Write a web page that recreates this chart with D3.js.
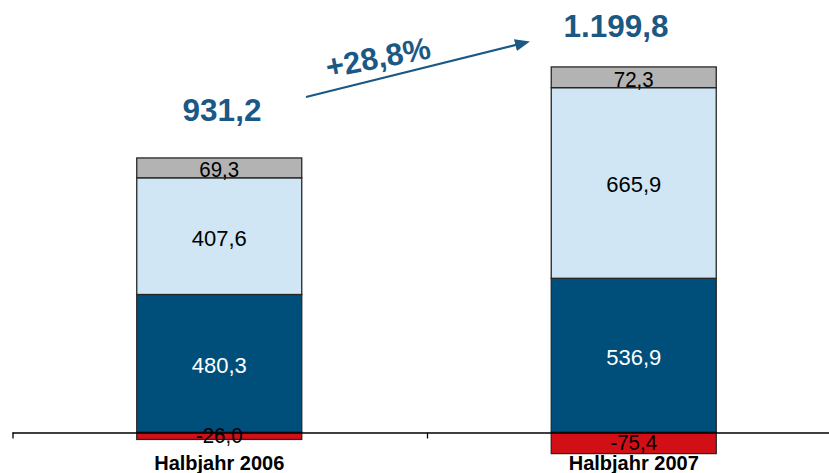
<!DOCTYPE html>
<html>
<head>
<meta charset="utf-8">
<script src="https://cdn.jsdelivr.net/npm/d3@7"></script>
<style>
  body { margin: 0; background: #fff; }
  text { font-family: "Liberation Sans", Arial, sans-serif; }
</style>
</head>
<body>
<script>
var categories = ['Halbjahr 2006', 'Halbjahr 2007'],
    negValues = [-26.0, -75.4],
    darkValues = [480.3, 536.9],
    lightValues = [407.6, 665.9],
    greyValues = [69.3, 72.3],
    totalLabels = ['931,2', '1.199,8'],
    growthLabel = '+28,8%';

var colors = { neg: '#d20f17', dark: '#004f7a', light: '#d0e6f5', grey: '#b3b3b3' },
    textColors = { neg: '#000', dark: '#fff', light: '#000', grey: '#000' },
    svgwidth = 829,
    svgheight = 473,
    zeroy = 432,
    pxPerUnit = 0.2863, //vertical pixels per value unit
    barw = 165;

//german number format with plain hyphen
var fmt = function (v) { return v.toFixed(1).replace('.', ','); };

var svg = d3.select('body').append('svg')
    .attr('width', svgwidth)
    .attr('height', svgheight);

//scales
var xscale = d3.scaleBand()
    .domain(categories)
    .range([12, 841]);

var yscale = d3.scaleLinear()
    .domain([-100, 1300])
    .range([zeroy + 100 * pxPerUnit, zeroy - 1300 * pxPerUnit]);

var cx = function (c) { return xscale(c) + xscale.bandwidth() / 2; };

//build stacked segments
var segments = [];
categories.forEach(function (c, i) {
    var y0 = 0;
    segments.push({ cat: c, key: 'neg', v: negValues[i], from: negValues[i], to: 0 });
    [['dark', darkValues], ['light', lightValues], ['grey', greyValues]].forEach(function (s) {
        segments.push({ cat: c, key: s[0], v: s[1][i], from: y0, to: y0 + s[1][i] });
        y0 += s[1][i];
    });
});

svg.selectAll('rect.seg')
    .data(segments)
    .enter().append('rect')
    .attr('class', 'seg')
    .attr('x', function (d) { return cx(d.cat) - barw / 2; })
    .attr('y', function (d) { return yscale(d.to); })
    .attr('width', barw)
    .attr('height', function (d) { return yscale(d.from) - yscale(d.to); })
    .attr('fill', function (d) { return colors[d.key]; })
    .attr('stroke', '#262626')
    .attr('stroke-width', 1.3);

//x axis
var gx = svg.append('g')
    .attr('transform', 'translate(0,' + (zeroy + 0.5) + ')')
    .call(d3.axisBottom(xscale).tickSize(0).tickFormat(''));
gx.select('.domain').attr('stroke', '#000').attr('stroke-width', 1.3);
gx.selectAll('.tick').remove();
gx.selectAll('line.sep')
    .data(categories)
    .enter().append('line')
    .attr('class', 'sep')
    .attr('x1', function (d) { return xscale(d) + 1; })
    .attr('x2', function (d) { return xscale(d) + 1; })
    .attr('y1', 0)
    .attr('y2', 6)
    .attr('stroke', '#000')
    .attr('stroke-width', 1.3);

//segment labels
svg.selectAll('text.seg')
    .data(segments)
    .enter().append('text')
    .attr('class', 'seg')
    .attr('text-anchor', 'middle')
    .attr('font-size', '22px')
    .attr('fill', function (d) { return textColors[d.key]; })
    .attr('transform', function (d) {
        var m = (yscale(d.from) + yscale(d.to)) / 2, y;
        if (d.key === 'neg') y = m + 7;
        else if (d.key === 'grey') y = yscale(d.from) - 0.5;
        else y = m + 9.5;
        var sx = (d.key === 'grey' || d.key === 'neg') ? 0.93 : 1;
        return 'translate(' + cx(d.cat) + ',' + y + ') scale(' + sx + ',1)';
    })
    .text(function (d) { return fmt(d.v); });

//category labels
svg.selectAll('text.cat')
    .data(categories)
    .enter().append('text')
    .attr('class', 'cat')
    .attr('x', function (d) { return cx(d); })
    .attr('y', 470)
    .attr('text-anchor', 'middle')
    .attr('font-size', '20px')
    .attr('font-weight', 'bold')
    .attr('fill', '#000')
    .text(function (d) { return d; });

//totals above the bars
var totalPos = [[222, 121], [616, 37]];
svg.selectAll('text.total')
    .data(totalLabels)
    .enter().append('text')
    .attr('class', 'total')
    .attr('x', function (d, i) { return totalPos[i][0]; })
    .attr('y', function (d, i) { return totalPos[i][1]; })
    .attr('text-anchor', 'middle')
    .attr('font-size', '31.5px')
    .attr('font-weight', 'bold')
    .attr('fill', '#1b5884')
    .text(function (d) { return d; });

//growth arrow
svg.append('defs').append('marker')
    .attr('id', 'arrow')
    .attr('viewBox', '0 0 15 12')
    .attr('markerUnits', 'userSpaceOnUse')
    .attr('refX', 7)
    .attr('refY', 6)
    .attr('markerWidth', 15)
    .attr('markerHeight', 12)
    .attr('orient', 'auto')
    .append('path')
    .attr('d', 'M0,0 L15,6 L0,12 Z')
    .attr('fill', '#1b5884');

svg.append('line')
    .attr('x1', 306).attr('y1', 97)
    .attr('x2', 522.2).attr('y2', 43.4)
    .attr('stroke', '#1b5884')
    .attr('stroke-width', 2.2)
    .attr('marker-end', 'url(#arrow)');

svg.append('text')
    .attr('text-anchor', 'middle')
    .attr('transform', 'translate(380,68) rotate(-11)')
    .attr('font-size', '31px')
    .attr('font-weight', 'bold')
    .attr('fill', '#1b5884')
    .text(growthLabel);
</script>
</body>
</html>
